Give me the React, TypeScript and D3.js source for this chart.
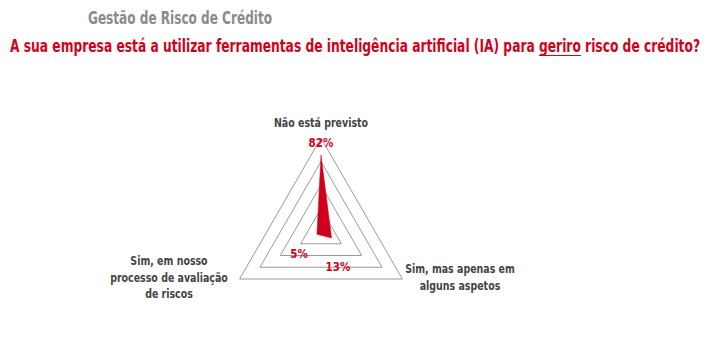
import { useEffect, useRef } from 'react';
import * as d3 from 'd3';

const axes = ['Não está previsto', 'Sim, mas apenas em alguns aspetos', 'Sim, em nosso processo de avaliação de riscos'];
const axisLabelLines = [['Não está previsto'], ['Sim, mas apenas em', 'alguns aspetos'], ['Sim, em nosso', 'processo de avaliação', 'de riscos']];
const values = [82, 13, 5];
const gridLevels = [25, 50, 75, 100];

const RED = '#d0021b';
const SUBTITLE = 'A sua empresa está a utilizar ferramentas de inteligência artificial (IA) para geriro risco de crédito?';

export default function App() {
  const svgRef = useRef<SVGSVGElement>(null);

  useEffect(() => {
    if (!svgRef.current) return;
    const width = 707;
    const height = 337;
    const svg = d3.select(svgRef.current)
      .attr('width', width)
      .attr('height', height)
      .style('display', 'block');
    svg.selectAll('*').remove();

    const font = '"Liberation Sans Narrow", "DejaVu Sans Condensed", Arial, sans-serif';

    // squeeze a text horizontally so narrow labels look like the condensed original
    const squeeze = (sel: d3.Selection<SVGTextElement, unknown, null, undefined>, k: number) => {
      const node = sel.node();
      if (!node) return;
      const w = node.getComputedTextLength();
      sel.attr('textLength', w * k).attr('lengthAdjust', 'spacingAndGlyphs');
    };

    // titles
    svg.append('text')
      .text('Gestão de Risco de Crédito')
      .attr('x', 88).attr('y', 24)
      .attr('textLength', 184).attr('lengthAdjust', 'spacingAndGlyphs')
      .attr('font-family', font).attr('font-weight', 700).attr('font-size', 17)
      .attr('fill', '#8a8a8a');

    const sub = svg.append('text')
      .text(SUBTITLE)
      .attr('x', 10).attr('y', 52)
      .attr('textLength', 690).attr('lengthAdjust', 'spacingAndGlyphs')
      .attr('font-family', font).attr('font-weight', 700).attr('font-size', 18.5)
      .attr('fill', RED);

    // underline under "geriro"
    const subNode = sub.node();
    if (subNode) {
      const i0 = SUBTITLE.indexOf('geriro');
      const i1 = i0 + 'geriro'.length - 1;
      try {
        const x0 = subNode.getStartPositionOfChar(i0).x;
        const x1 = subNode.getEndPositionOfChar(i1).x;
        svg.append('line')
          .attr('x1', x0).attr('x2', x1)
          .attr('y1', 55.5).attr('y2', 55.5)
          .attr('stroke', RED).attr('stroke-width', 1);
      } catch (e) { /* ignore */ }
    }

    const cx = 321;
    const cy = 232;
    const r = d3.scaleLinear().domain([0, 100]).range([0, 94]);
    const angle = d3.scaleLinear().domain([0, axes.length]).range([0, 2 * Math.PI]);
    const pt = (i: number, v: number): [number, number] => {
      const a = angle(i);
      return [cx + r(v) * Math.sin(a), cy - r(v) * Math.cos(a)];
    };

    const g = svg.append('g');
    const line = d3.line<[number, number]>().curve(d3.curveLinearClosed);

    g.selectAll('.grid')
      .data(gridLevels)
      .enter().append('path')
      .attr('d', lv => line(axes.map((_, i) => pt(i, lv))))
      .attr('fill', 'none')
      .attr('stroke', '#9a9a9a')
      .attr('stroke-width', 1);

    g.append('path')
      .attr('d', line(values.map((v, i) => pt(i, v))))
      .attr('fill', RED)
      .attr('stroke', RED)
      .attr('stroke-width', 0.5);

    // axis labels
    const labelAnchors: [number, number][] = [[cx, 127], [460, 273], [169, 265]];
    axisLabelLines.forEach((lines, i) => {
      lines.forEach((l, j) => {
        const t = g.append('text')
          .text(l)
          .attr('x', labelAnchors[i][0]).attr('y', labelAnchors[i][1] + j * 16.5)
          .attr('text-anchor', 'middle')
          .attr('font-family', font).attr('font-weight', 700).attr('font-size', 12.5)
          .attr('fill', '#444');
        squeeze(t, 0.84);
      });
    });

    // value labels
    const valueAnchors: [number, number][] = [[cx, 147], [338, 271], [299, 258]];
    values.forEach((v, i) => {
      const t = g.append('text')
        .text(`${v}%`)
        .attr('x', valueAnchors[i][0]).attr('y', valueAnchors[i][1])
        .attr('text-anchor', 'middle')
        .attr('font-family', font).attr('font-weight', 700).attr('font-size', 12.5)
        .attr('fill', RED);
      squeeze(t, 0.92);
    });
  }, []);

  return <svg ref={svgRef} style={{ position: 'absolute', left: 0, top: 0, background: '#fff' }} />;
}
